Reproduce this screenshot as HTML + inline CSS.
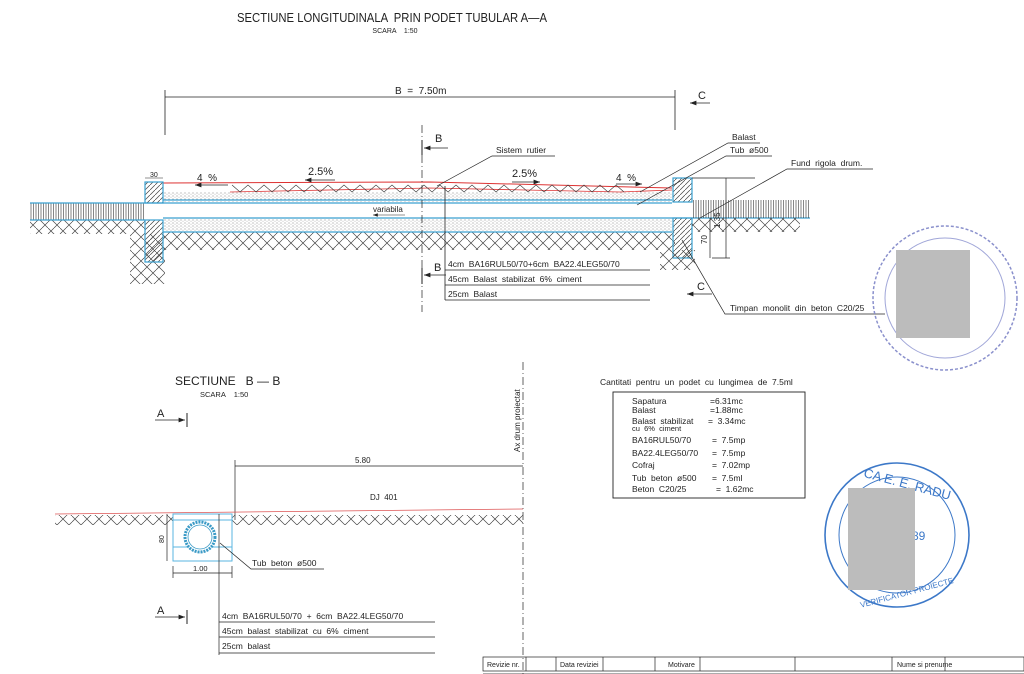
<!DOCTYPE html>
<html><head><meta charset="utf-8"><style>
html,body{margin:0;padding:0;background:#fff;}
svg{display:block;font-family:"Liberation Sans",sans-serif;}
text{white-space:pre;}
</style></head><body>
<svg width="1024" height="674" viewBox="0 0 1024 674" xmlns="http://www.w3.org/2000/svg">
<defs>
<pattern id="earth" width="12" height="12" patternUnits="userSpaceOnUse">
<path d="M0 6 L6 0 M6 12 L12 6 M0 0 L6 6 M6 6 L12 12" stroke="#444" stroke-width="0.7" fill="none"/>
</pattern>
<pattern id="diag" width="5" height="5" patternUnits="userSpaceOnUse">
<path d="M0 5 L5 0" stroke="#444" stroke-width="0.7"/>
</pattern>
<pattern id="vert" width="2.5" height="20" patternUnits="userSpaceOnUse">
<path d="M1 0 L1 20" stroke="#333" stroke-width="0.6"/>
</pattern>
<pattern id="dots" width="4" height="3" patternUnits="userSpaceOnUse">
<circle cx="1" cy="1" r="0.5" fill="#666"/><circle cx="3" cy="2.2" r="0.4" fill="#888"/>
</pattern>
<marker id="ar" markerWidth="8" markerHeight="6" refX="8" refY="3" orient="auto"><path d="M0 0 L8 3 L0 6z" fill="#222"/></marker>
<marker id="ar0" markerWidth="8" markerHeight="6" refX="0" refY="3" orient="auto"><path d="M8 0 L0 3 L8 6z" fill="#222"/></marker>
</defs>

<text x="392" y="22" font-size="13" text-anchor="middle" fill="#222" textLength="310" lengthAdjust="spacingAndGlyphs">SECTIUNE LONGITUDINALA  PRIN PODET TUBULAR A—A</text>
<text x="395" y="33" font-size="7" fill="#222" text-anchor="middle">SCARA    1:50</text>

<g stroke="#222" stroke-width="0.8" fill="none">
<line x1="165" y1="90" x2="165" y2="135"/><line x1="675" y1="90" x2="675" y2="130"/>
<line x1="165" y1="97" x2="675" y2="97"/>
<line x1="690" y1="103" x2="710" y2="103" marker-start="url(#ar0)"/>
</g>
<text x="395" y="94" font-size="10" fill="#222">B  =  7.50m</text>
<text x="698" y="99" font-size="11" fill="#222">C</text>

<rect x="30" y="203" width="115" height="17" fill="url(#vert)"/>
<rect x="30" y="220" width="115" height="14" fill="url(#earth)"/>
<rect x="130" y="234" width="35" height="50" fill="url(#earth)"/>
<rect x="163" y="192" width="512" height="10" fill="url(#dots)"/>
<rect x="163" y="218" width="512" height="14" fill="url(#dots)"/>
<rect x="163" y="232" width="512" height="18" fill="url(#earth)"/>
<polyline points="163,183 430,182 672,188" fill="none" stroke="#d33" stroke-width="1"/>
<polyline points="230,192 430,188 620,192 672,190" fill="none" stroke="#d33" stroke-width="0.8"/>
<path d="M232 185 l8 7 l8 -7 l8 7 l8 -7 l8 7 l8 -7 l8 7 l8 -7 l8 7 l8 -7 l8 7 l8 -7 l8 7 l8 -7 l8 7 l8 -7 l8 7 l8 -7 l8 7 l8 -7 l8 7 l8 -7 l8 7 l8 -7 l8 7 l8 -7 l8 7 l8 -7 l8 7 l8 -7 l8 7 l8 -7 l8 7 l8 -7 l8 7 l8 -7 l8 7 l8 -7 l8 7 l8 -7 l8 7 l8 -7 l8 7 l8 -7 l8 7 l8 -7 l8 7 l8 -7 l8 7" fill="none" stroke="#333" stroke-width="0.6"/>
<g stroke="#3aa0d0" stroke-width="1.2" fill="none">
<line x1="30" y1="203" x2="672" y2="203"/><line x1="30" y1="220" x2="145" y2="220"/>
<line x1="163" y1="200" x2="672" y2="200"/>
<line x1="163" y1="218" x2="692" y2="218"/><line x1="163" y1="232" x2="672" y2="232"/>
<line x1="692" y1="218" x2="810" y2="218"/>
</g>
<rect x="145" y="182" width="18" height="21" fill="url(#diag)" stroke="#3aa0d0" stroke-width="1.2"/>
<rect x="145" y="220" width="18" height="42" fill="url(#diag)" stroke="#3aa0d0" stroke-width="1.2"/>
<rect x="673" y="178" width="19" height="24" fill="url(#diag)" stroke="#3aa0d0" stroke-width="1.2"/>
<rect x="673" y="218" width="19" height="40" fill="url(#diag)" stroke="#3aa0d0" stroke-width="1.2"/>
<rect x="692" y="200" width="118" height="18" fill="url(#vert)"/>
<rect x="692" y="218" width="108" height="14" fill="url(#earth)"/>
<rect x="660" y="250" width="35" height="20" fill="url(#earth)"/>
<text x="150" y="177" font-size="7" fill="#222">30</text>
<line x1="145" y1="178" x2="163" y2="178" stroke="#222" stroke-width="0.6"/>
<text x="197" y="181" font-size="10" fill="#222">4  %</text>
<line x1="195" y1="185" x2="228" y2="185" stroke="#222" stroke-width="0.8" marker-start="url(#ar0)"/>
<text x="308" y="175" font-size="11" fill="#222">2.5%</text>
<line x1="305" y1="180" x2="335" y2="180" stroke="#222" stroke-width="0.8" marker-start="url(#ar0)"/>
<text x="512" y="177" font-size="11" fill="#222">2.5%</text>
<line x1="512" y1="182" x2="540" y2="182" stroke="#222" stroke-width="0.8" marker-end="url(#ar)"/>
<text x="616" y="181" font-size="10" fill="#222">4  %</text>
<line x1="616" y1="184" x2="642" y2="184" stroke="#222" stroke-width="0.8" marker-end="url(#ar)"/>
<text x="373" y="212" font-size="8" fill="#222">variabila</text>
<line x1="373" y1="215" x2="405" y2="215" stroke="#222" stroke-width="0.6" marker-start="url(#ar0)"/>
<line x1="422" y1="125" x2="422" y2="312" stroke="#222" stroke-width="0.7" stroke-dasharray="8 3 1 3"/>
<line x1="422" y1="140" x2="422" y2="155" stroke="#222"/>
<line x1="424" y1="148" x2="448" y2="148" stroke="#222" stroke-width="0.8" marker-start="url(#ar0)"/>
<text x="435" y="142" font-size="11" fill="#222">B</text>
<line x1="422" y1="268" x2="422" y2="284" stroke="#222"/>
<line x1="424" y1="275" x2="446" y2="275" stroke="#222" stroke-width="0.8" marker-start="url(#ar0)"/>
<text x="434" y="271" font-size="11" fill="#222">B</text>
<g stroke="#222" stroke-width="0.8">
<line x1="445" y1="186" x2="445" y2="300"/>
<line x1="445" y1="270" x2="650" y2="270"/><line x1="445" y1="285" x2="650" y2="285"/><line x1="445" y1="300" x2="650" y2="300"/>
</g>
<text x="448" y="267" font-size="8.5" fill="#222">4cm  BA16RUL50/70+6cm  BA22.4LEG50/70</text>
<text x="448" y="282" font-size="8.5" fill="#222">45cm  Balast  stabilizat  6%  ciment</text>
<text x="448" y="297" font-size="8.5" fill="#222">25cm  Balast</text>
<text x="496" y="153" font-size="8.5" fill="#222">Sistem  rutier</text>
<polyline points="555,156 492,156 437,186" fill="none" stroke="#222" stroke-width="0.7"/>
<text x="732" y="140" font-size="8.5" fill="#222">Balast</text>
<polyline points="760,143 728,143 640,192" fill="none" stroke="#222" stroke-width="0.7"/>
<text x="730" y="153" font-size="8.5" fill="#222">Tub  ø500</text>
<polyline points="772,156 726,156 637,205" fill="none" stroke="#222" stroke-width="0.7"/>
<text x="791" y="166" font-size="8.5" fill="#222">Fund  rigola  drum.</text>
<polyline points="873,169 787,169 700,218" fill="none" stroke="#222" stroke-width="0.7"/>
<text x="730" y="311" font-size="8.5" fill="#222">Timpan  monolit  din  beton  C20/25</text>
<polyline points="885,314 725,314 682,240" fill="none" stroke="#222" stroke-width="0.7"/>
<g stroke="#222" stroke-width="0.7">
<line x1="692" y1="178" x2="755" y2="178"/><line x1="712" y1="258" x2="730" y2="258"/>
<line x1="726" y1="178" x2="726" y2="258"/><line x1="710" y1="218" x2="710" y2="258"/>
</g>
<text x="720" y="228" font-size="8" fill="#222" transform="rotate(-90 720 228)">1.35</text>
<text x="707" y="244" font-size="8" fill="#222" transform="rotate(-90 707 244)">70</text>
<line x1="687" y1="294" x2="712" y2="294" stroke="#222" stroke-width="0.8" marker-start="url(#ar0)"/>
<text x="697" y="290" font-size="11" fill="#222">C</text>

<circle cx="945" cy="298" r="72" fill="none" stroke="#8a90cc" stroke-width="1.5" stroke-dasharray="3 2"/>
<circle cx="945" cy="298" r="60" fill="none" stroke="#a0a6d8" stroke-width="1"/>
<rect x="896" y="250" width="74" height="88" fill="#bcbcbc"/>

<text x="175" y="385" font-size="12" fill="#222">SECTIUNE   B — B</text>
<text x="200" y="397" font-size="7.5" fill="#222">SCARA    1:50</text>
<text x="157" y="417" font-size="11" fill="#222">A</text>
<line x1="155" y1="420" x2="185" y2="420" stroke="#222" stroke-width="0.8" marker-end="url(#ar)"/>
<line x1="187" y1="413" x2="187" y2="427" stroke="#222"/>
<text x="157" y="614" font-size="11" fill="#222">A</text>
<line x1="155" y1="617" x2="185" y2="617" stroke="#222" stroke-width="0.8" marker-end="url(#ar)"/>
<line x1="187" y1="610" x2="187" y2="624" stroke="#222"/>

<line x1="523" y1="362" x2="523" y2="674" stroke="#222" stroke-width="0.7" stroke-dasharray="8 3 1 3"/>
<text x="520" y="452" font-size="8" fill="#222" transform="rotate(-90 520 452)">Ax drum proiectat</text>
<g stroke="#222" stroke-width="0.7">
<line x1="235" y1="466" x2="523" y2="466"/><line x1="235" y1="460" x2="235" y2="520"/>
</g>
<text x="355" y="463" font-size="8" fill="#222">5.80</text>
<text x="370" y="500" font-size="8" fill="#222">DJ  401</text>
<rect x="55" y="515" width="118" height="10" fill="url(#earth)"/>
<rect x="232" y="515" width="291" height="10" fill="url(#earth)"/>
<line x1="55" y1="514" x2="523" y2="509" stroke="#d55" stroke-width="0.8"/>
<rect x="173" y="514" width="59" height="47" fill="#fff" stroke="#5ab6e0" stroke-width="1"/>
<line x1="173" y1="520" x2="232" y2="520" stroke="#5ab6e0"/><line x1="173" y1="547" x2="232" y2="547" stroke="#5ab6e0"/>
<circle cx="200" cy="537" r="15" fill="#fff" stroke="#3a9ac6" stroke-width="3" stroke-dasharray="2 1"/>
<circle cx="200" cy="537" r="12" fill="#fff" stroke="#3a9ac6" stroke-width="0.8"/>
<g stroke="#222" stroke-width="0.7">
<line x1="167" y1="514" x2="167" y2="561"/><line x1="173" y1="573" x2="232" y2="573"/>
<line x1="173" y1="566" x2="173" y2="578"/><line x1="232" y1="566" x2="232" y2="578"/>
<line x1="219" y1="514" x2="219" y2="655"/>
<polyline points="220,543 251,569 324,569" fill="none"/>
<line x1="219" y1="622" x2="435" y2="622"/><line x1="219" y1="637" x2="435" y2="637"/><line x1="219" y1="653" x2="435" y2="653"/>
</g>
<text x="164" y="543" font-size="7" fill="#222" transform="rotate(-90 164 543)">80</text>
<text x="193" y="571" font-size="7.5" fill="#222">1.00</text>
<text x="252" y="566" font-size="8.5" fill="#222">Tub  beton  ø500</text>
<text x="222" y="619" font-size="8.5" fill="#222">4cm  BA16RUL50/70  +  6cm  BA22.4LEG50/70</text>
<text x="222" y="634" font-size="8.5" fill="#222">45cm  balast  stabilizat  cu  6%  ciment</text>
<text x="222" y="649" font-size="8.5" fill="#222">25cm  balast</text>

<text x="600" y="385" font-size="8.5" fill="#222">Cantitati  pentru  un  podet  cu  lungimea  de  7.5ml</text>
<rect x="613" y="392" width="192" height="106" fill="none" stroke="#222" stroke-width="0.9"/>
<g font-size="8.5" fill="#222">
<text x="632" y="404">Sapatura</text><text x="710" y="404">=6.31mc</text>
<text x="632" y="413">Balast</text><text x="710" y="413">=1.88mc</text>
<text x="632" y="424">Balast  stabilizat</text><text x="708" y="424">=  3.34mc</text>
<text x="632" y="431" font-size="7.5">cu  6%  ciment</text>
<text x="632" y="443">BA16RUL50/70</text><text x="712" y="443">=  7.5mp</text>
<text x="632" y="456">BA22.4LEG50/70</text><text x="712" y="456">=  7.5mp</text>
<text x="632" y="468">Cofraj</text><text x="712" y="468">=  7.02mp</text>
<text x="632" y="481">Tub  beton  ø500</text><text x="712" y="481">=  7.5ml</text>
<text x="632" y="492">Beton  C20/25</text><text x="716" y="492">=  1.62mc</text>
</g>

<circle cx="897" cy="535" r="72" fill="none" stroke="#3c78c8" stroke-width="1.6"/>
<circle cx="897" cy="535" r="58" fill="none" stroke="#3c78c8" stroke-width="1"/>
<text x="862" y="484" font-size="13" fill="#3c78c8" transform="rotate(15 890 484)">CA E. E. RADU</text>
<text x="912" y="540" font-size="12" fill="#3c78c8">89</text>
<text x="860" y="600" font-size="8" fill="#3c78c8" transform="rotate(-15 890 600)">VERIFICATOR PROIECTE</text>
<rect x="848" y="488" width="67" height="102" fill="#bcbcbc"/>

<g stroke="#222" stroke-width="0.7" fill="none">
<rect x="483" y="657" width="541" height="14"/>
<line x1="483" y1="674" x2="1024" y2="674"/>
<line x1="526" y1="657" x2="526" y2="671"/><line x1="556" y1="657" x2="556" y2="671"/>
<line x1="603" y1="657" x2="603" y2="671"/><line x1="655" y1="657" x2="655" y2="671"/>
<line x1="700" y1="657" x2="700" y2="671"/><line x1="795" y1="657" x2="795" y2="671"/>
<line x1="892" y1="657" x2="892" y2="671"/><line x1="945" y1="657" x2="945" y2="671"/>
</g>
<g font-size="7" fill="#222">
<text x="487" y="667">Revizie nr.</text><text x="560" y="667">Data reviziei</text>
<text x="668" y="667">Motivare</text><text x="897" y="667">Nume si prenume</text>
</g>
</svg>
</body></html>
